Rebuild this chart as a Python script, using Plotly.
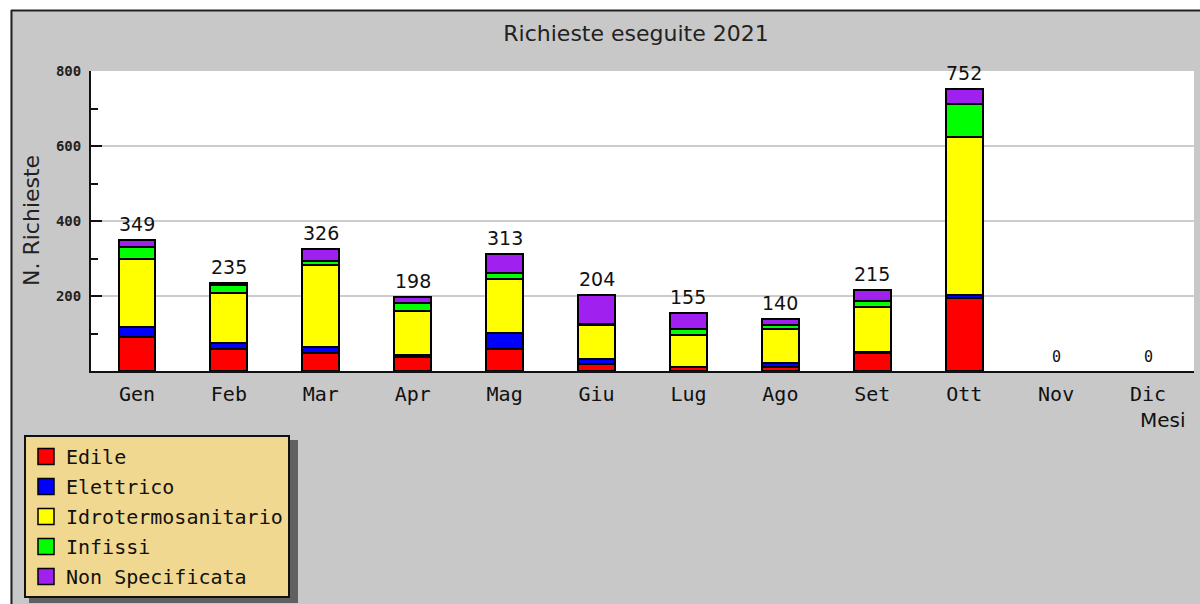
import plotly.graph_objects as go

# ---------------- data ----------------
months = ["Gen", "Feb", "Mar", "Apr", "Mag", "Giu", "Lug", "Ago", "Set", "Ott", "Nov", "Dic"]
edile = [92, 58, 47, 37, 58, 20, 10, 10, 49, 194, 0, 0]
elettrico = [26, 16, 18, 5, 44, 11, 2, 12, 3, 10, 0, 0]
idrotermosanitario = [181, 133, 218, 118, 143, 93, 84, 89, 120, 421, 0, 0]
infissi = [32, 23, 11, 22, 17, 2, 15, 12, 16, 86, 0, 0]
non_specificata = [18, 5, 32, 16, 51, 78, 44, 17, 27, 41, 0, 0]
totals = [349, 235, 326, 198, 313, 204, 155, 140, 215, 752, 0, 0]

series = [
    ("Edile", edile, "#ff0000"),
    ("Elettrico", elettrico, "#0000ff"),
    ("Idrotermosanitario", idrotermosanitario, "#ffff00"),
    ("Infissi", infissi, "#00ff00"),
    ("Non Specificata", non_specificata, "#a020f0"),
]

# ---------------- geometry helpers (pixel -> paper) ----------------
W, H = 1200, 604
L, R, T, B = 91, 6, 71, 233
PW, PH = W - L - R, H - T - B


def px(x):
    return (x - L) / PW


def py(y):
    return (H - B - y) / PH


MONO = "DejaVu Sans Mono"
SANS = "DejaVu Sans"

fig = go.Figure()

for name, vals, col in series:
    fig.add_trace(go.Bar(
        x=months, y=vals, name=name, width=0.4,
        marker=dict(color=col,
                    line=dict(color="black", width=[2 if v > 0 else 0 for v in vals])),
        showlegend=False, hoverinfo="x+y+name",
    ))

# legend-only entries with larger square swatches
for name, vals, col in series:
    fig.add_trace(go.Scatter(
        x=[None], y=[None], mode="markers", name=name, legendgroup=name,
        marker=dict(symbol="square", size=16, color=col,
                    line=dict(color="black", width=1.5)),
        showlegend=True, hoverinfo="skip",
    ))

shapes = [
    # white margin outside the frame
    dict(type="rect", xref="paper", yref="paper", x0=px(0), x1=px(W), y0=py(0), y1=py(10),
         fillcolor="white", line=dict(width=0), layer="above"),
    dict(type="rect", xref="paper", yref="paper", x0=px(0), x1=px(10.5), y0=py(0), y1=py(H),
         fillcolor="white", line=dict(width=0), layer="above"),
    # frame border
    dict(type="line", xref="paper", yref="paper", x0=px(11), x1=px(W), y0=py(10.5), y1=py(10.5),
         line=dict(color="#222222", width=2), layer="above"),
    dict(type="line", xref="paper", yref="paper", x0=px(11.5), x1=px(11.5), y0=py(10), y1=py(H),
         line=dict(color="#222222", width=2), layer="above"),
    # legend shadow
    dict(type="rect", xref="paper", yref="paper", x0=px(29), x1=px(298), y0=py(440), y1=py(603),
         fillcolor="#606060", line=dict(width=0), layer="above"),
]

annotations = [
    dict(text="N. Richieste", textangle=-90, xref="paper", yref="paper",
         x=px(31), y=py(221), xanchor="center", yanchor="middle", showarrow=False,
         font=dict(family=SANS, size=22, color="#222222")),
    dict(text="Mesi", xref="paper", yref="paper", x=px(1188), y=py(420),
         xanchor="right", yanchor="middle", showarrow=False,
         font=dict(family=SANS, size=20, color="#111111")),
]

# totals above bars
for m, t in zip(months, totals):
    annotations.append(dict(
        text=str(t), x=m, y=t, xref="x", yref="y", xanchor="center", yanchor="bottom",
        yshift=3, showarrow=False,
        font=dict(family=SANS if t > 0 else MONO, size=19 if t > 0 else 15, color="#111111"),
    ))

fig.update_layout(
    width=W, height=H,
    margin=dict(l=L, r=R, t=T, b=B, pad=0, autoexpand=False),
    barmode="stack",
    paper_bgcolor="#c8c8c8",
    plot_bgcolor="white",
    title=dict(text="Richieste eseguite 2021", xref="container", yref="container",
               x=636 / W, y=1 - 33 / H, xanchor="center", yanchor="middle",
               font=dict(family=SANS, size=22, color="#222222")),
    xaxis=dict(type="category", categoryorder="array", categoryarray=months,
               range=[-0.5, 11.5], showline=True, linecolor="#111111", linewidth=2,
               ticks="", showgrid=False, zeroline=False,
               tickfont=dict(family=MONO, size=20, color="#111111"),
               ticklabelstandoff=4, fixedrange=True),
    yaxis=dict(range=[0, 800], tickvals=[200, 400, 600, 800],
               showline=True, linecolor="#111111", linewidth=2,
               ticks="inside", ticklen=11, tickwidth=2, tickcolor="#111111",
               showgrid=True, gridcolor="#cccccc", gridwidth=1.5, zeroline=False,
               minor=dict(tickvals=[100, 300, 500, 700], ticks="inside", ticklen=7,
                          tickwidth=2, tickcolor="#111111", showgrid=False),
               tickfont=dict(family=MONO, size=14, color="#222222", weight="bold"),
               ticklabelstandoff=5, fixedrange=True),
    legend=dict(x=px(24), y=py(435), xanchor="left", yanchor="top",
                bgcolor="#f0d890", bordercolor="#111111", borderwidth=2,
                font=dict(family=MONO, size=20, color="#111111"),
                traceorder="grouped", tracegroupgap=1, itemclick=False,
                itemdoubleclick=False),
    shapes=shapes,
    annotations=annotations,
    showlegend=True,
)

fig.write_html(
    "out.html",
    config={"displayModeBar": False},
    post_script="document.body.style.margin='0';document.body.style.overflow='hidden';",
)
